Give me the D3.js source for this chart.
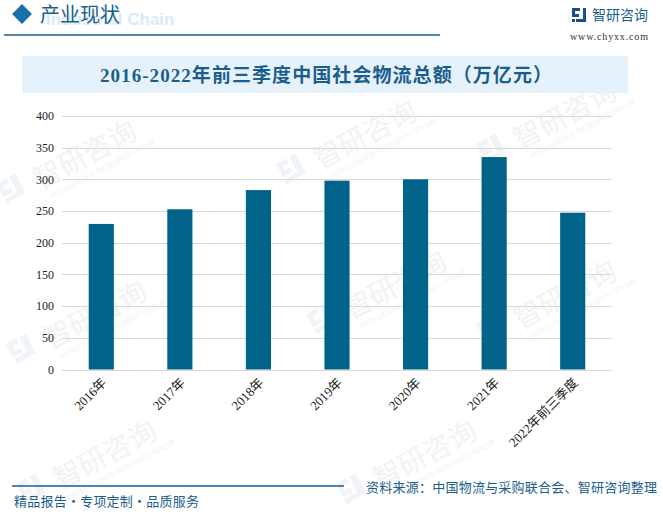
<!DOCTYPE html>
<html><head><meta charset="utf-8">
<script src="https://cdn.jsdelivr.net/npm/d3@7"></script>
<style>body{margin:0;background:#fff;}svg{display:block;}</style>
</head><body>
<script>
const categories = ["2016年","2017年","2018年","2019年","2020年","2021年","2022年前三季度"];
const values = [229.7, 252.8, 283.1, 298.0, 300.1, 335.2, 247.4];
const yTicks = [0,50,100,150,200,250,300,350,400];
const title = "2016-2022年前三季度中国社会物流总额（万亿元）";
const sourceText = "资料来源：中国物流与采购联合会、智研咨询整理";
const sloganText = "精品报告・专项定制・品质服务";

const W = 663, H = 522;
const blue = "#1b5e8c";
const svg = d3.select("body").append("svg").attr("width", W).attr("height", H);

// watermarks
const wm = svg.append("g");
const wmPos = [[40,190],[320,170],[520,150],[50,350],[350,320],[520,330],[60,490],[380,490]];
wmPos.forEach(([x,y])=>{
  const g = wm.append("g").attr("transform",`translate(${x},${y}) rotate(-28)`);
  g.append("path").attr("d","M-36,-26H-24V-21H-31V-16H-25V-11H-36Z M-21,-26H-14V-4H-31V-9H-21Z M-36,-8H-31V-3H-36Z").attr("fill","#f0f4f8");
  g.append("text").attr("x",0).attr("y",0).attr("font-family","Noto Sans CJK SC")
   .attr("font-size",28).attr("fill","#f0f2f5").text("智研咨询");
  g.append("text").attr("x",6).attr("y",13).attr("font-family","Liberation Sans")
   .attr("font-size",7).attr("fill","#f0f2f5").text("INTELLIGENCE RESEARCH GROUP");
});

// header
svg.append("text").attr("x",46).attr("y",25).attr("font-family","Liberation Sans")
  .attr("font-weight","bold").attr("font-size",17).attr("fill","#d9ebf8").text("Industrial Chain");
svg.append("rect").attr("x",15).attr("y",7).attr("width",14).attr("height",14)
  .attr("transform","rotate(45,22,14)").attr("fill","#1a6fad");
svg.append("text").attr("x",40).attr("y",22).attr("font-family","Noto Sans CJK SC")
  .attr("font-size",20).attr("fill",blue).text("产业现状");
svg.append("line").attr("x1",4).attr("x2",440).attr("y1",35).attr("y2",35)
  .attr("stroke",blue).attr("stroke-width",1.5);
// logo
const lg = svg.append("g").attr("transform","translate(572,8)");
lg.append("path").attr("d","M0,0H8V3H3V6H7V9H0Z M10,0H14V14H4V11H11V0Z M0,11H3V14H0Z").attr("fill","#1b4f8c");
svg.append("text").attr("x",592).attr("y",20).attr("font-family","Noto Sans CJK SC")
  .attr("font-size",14).attr("fill",blue).text("智研咨询");
svg.append("text").attr("x",570).attr("y",40).attr("font-family","Liberation Serif")
  .attr("font-size",10).attr("textLength",78).attr("fill","#333").text("www.chyxx.com");

// title box
svg.append("rect").attr("x",22).attr("y",56).attr("width",606).attr("height",37).attr("fill","#e6f2fb");
svg.append("text").attr("x",326).attr("y",82).attr("text-anchor","middle")
  .attr("font-family","Liberation Serif, Noto Sans CJK SC").attr("font-weight","bold")
  .attr("font-size",19).attr("textLength",452).attr("fill",blue).text(title);

// chart
const x = d3.scaleBand().domain(categories).range([62,612]).paddingInner(0.68).paddingOuter(0.34);
const y = d3.scaleLinear().domain([0,400]).range([369.5,116]);

const grid = svg.append("g");
grid.selectAll("line").data(yTicks).join("line")
  .attr("x1",62).attr("x2",612).attr("y1",d=>Math.round(y(d))+0.5).attr("y2",d=>Math.round(y(d))+0.5)
  .attr("stroke","#d9d9d9").attr("stroke-width",1);

const yAxis = svg.append("g").attr("transform","translate(54,0)")
  .call(d3.axisLeft(y).tickValues(yTicks).tickSize(0).tickPadding(0));
yAxis.select(".domain").remove();
yAxis.selectAll("text").attr("font-family","Liberation Serif").attr("font-size",12).attr("fill","#222");

svg.append("g").selectAll("rect").data(values).join("rect")
  .attr("x",(d,i)=>x(categories[i])).attr("width",x.bandwidth())
  .attr("y",d=>y(d)).attr("height",d=>y(0)-y(d)).attr("fill","#02638a");

const xAxis = svg.append("g").attr("transform",`translate(0,${y(0)})`)
  .call(d3.axisBottom(x).tickSize(0).tickPadding(0));
xAxis.select(".domain").remove();
xAxis.selectAll("text")
  .attr("font-family","Liberation Serif, Noto Sans CJK SC").attr("font-size",13).attr("fill","#222")
  .attr("text-anchor","end").attr("dy",0).attr("y",0)
  .attr("transform","translate(6,14) rotate(-45)");

// footer
svg.append("line").attr("x1",12).attr("x2",344).attr("y1",486).attr("y2",486)
  .attr("stroke",blue).attr("stroke-width",1.5);
svg.append("text").attr("x",14).attr("y",506).attr("font-family","Noto Sans CJK SC")
  .attr("font-size",13).attr("textLength",185).attr("fill",blue).text(sloganText);
svg.append("text").attr("x",366).attr("y",492).attr("font-family","Noto Sans CJK SC")
  .attr("font-size",13).attr("textLength",291).attr("fill",blue).text(sourceText);
</script>
</body></html>
